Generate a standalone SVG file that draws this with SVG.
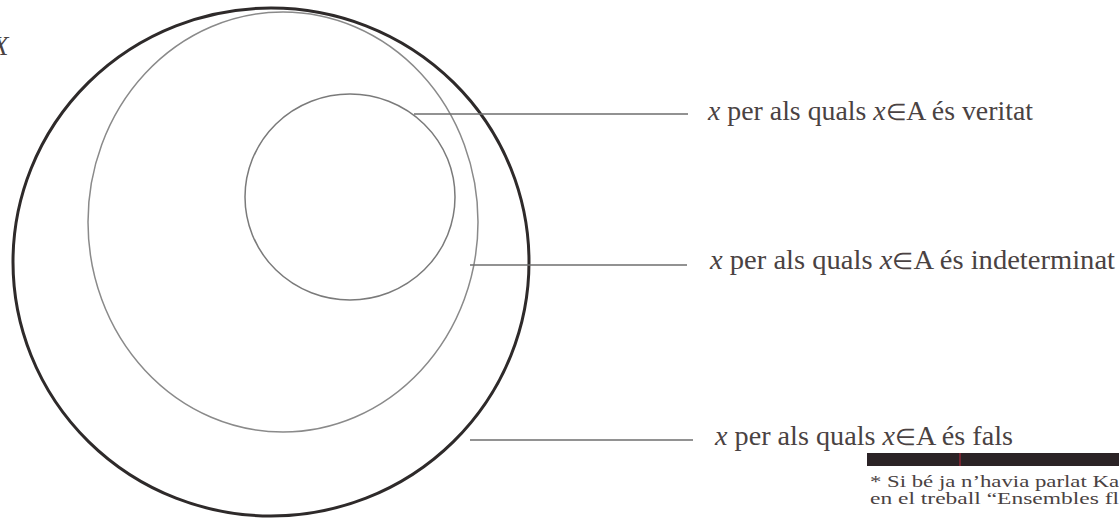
<svg xmlns="http://www.w3.org/2000/svg" width="1119" height="524" viewBox="0 0 1119 524">
<style>
.lbl{font-family:"Liberation Serif",serif;font-size:27px;fill:#4a4242}
.it{font-style:italic}
.el{font-size:23px}
.foot{font-family:"Liberation Serif",serif;font-size:16px;fill:#4a4242}
.ln{stroke:#6e6e6e;stroke-width:1.6;fill:none}
</style>
<rect width="1119" height="524" fill="#ffffff"/>
<text class="lbl it" x="-8" y="55">X</text>
<g id="outer"><ellipse cx="271" cy="262" rx="258" ry="254" fill="none" stroke="#2e2a2a" stroke-width="3"/></g>
<g id="middle"><ellipse cx="283" cy="222" rx="195" ry="210" fill="none" stroke="#8a8a8a" stroke-width="1.5"/></g>
<g id="inner"><ellipse cx="350" cy="197" rx="105" ry="103" fill="none" stroke="#7a7a7a" stroke-width="1.5"/></g>
<g id="connectors">
<line class="ln" x1="414" y1="114" x2="688" y2="114"/>
<line class="ln" x1="470" y1="265" x2="687" y2="265"/>
<line class="ln" x1="470" y1="440" x2="693" y2="440"/>
</g>
<g id="label-veritat"><text class="lbl" x="708" y="120" textLength="325" lengthAdjust="spacingAndGlyphs"><tspan class="it">x</tspan> per als quals <tspan class="it">x</tspan><tspan class="el">∈</tspan>A és veritat</text></g>
<g id="label-indeterminat"><text class="lbl" x="710" y="269" textLength="405" lengthAdjust="spacingAndGlyphs"><tspan class="it">x</tspan> per als quals <tspan class="it">x</tspan><tspan class="el">∈</tspan>A és indeterminat</text></g>
<g id="label-fals"><text class="lbl" x="715" y="445" textLength="298" lengthAdjust="spacingAndGlyphs"><tspan class="it">x</tspan> per als quals <tspan class="it">x</tspan><tspan class="el">∈</tspan>A és fals</text></g>
<rect x="867" y="453" width="252" height="13" fill="#2b2326"/>
<line x1="960" y1="453" x2="960" y2="466" stroke="#c0283a" stroke-width="1"/>
<text class="foot" x="870" y="487" textLength="249" lengthAdjust="spacingAndGlyphs">* Si bé ja n’havia parlat Ka</text>
<text class="foot" x="870" y="504" textLength="249" lengthAdjust="spacingAndGlyphs">en el treball “Ensembles fl</text>
</svg>
